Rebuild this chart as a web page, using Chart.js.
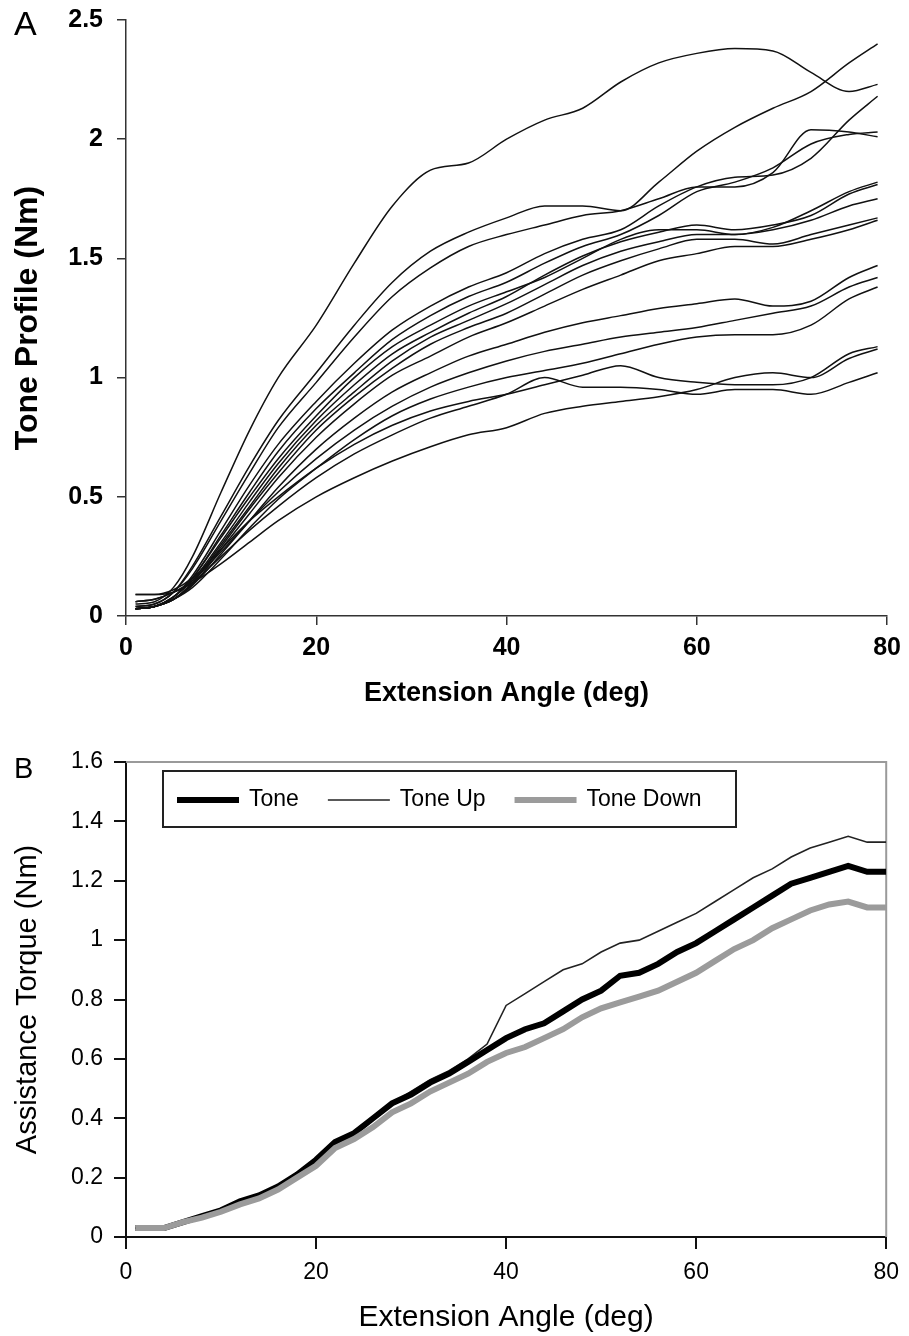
<!DOCTYPE html>
<html>
<head>
<meta charset="utf-8">
<script src="https://cdn.jsdelivr.net/npm/chart.js@4.4.1/dist/chart.umd.min.js"></script>
<style>
html, body { margin: 0; padding: 0; background: #fff; }
#wrapA { position: absolute; left: 0; top: 0; width: 909px; height: 710px; }
#wrapB { position: absolute; left: 0; top: 710px; width: 909px; height: 626px; }
</style>
</head>
<body>
<div id="wrapA"><canvas id="panelA" width="909" height="710"></canvas></div>
<div id="wrapB"><canvas id="panelB" width="909" height="626"></canvas></div>
<script>
// ---- panel A : tone profile of each subject ----
var anglesA = [1,3,5,7,10,13,16,20,24,28,32,36,40,44,48,52,56,60,64,68,72,76,79];

var subj01 = [0.05,0.06,0.12,0.25,0.52,0.78,1.00,1.22,1.48,1.72,1.87,1.90,2.00,2.08,2.13,2.24,2.32,2.36,2.38,2.37,2.28,2.20,2.23];
var subj02 = [0.04,0.05,0.10,0.21,0.42,0.63,0.82,1.02,1.22,1.40,1.53,1.61,1.67,1.72,1.72,1.70,1.82,1.95,2.05,2.13,2.20,2.32,2.40];
var subj03 = [0.04,0.05,0.10,0.20,0.40,0.60,0.79,0.98,1.17,1.34,1.46,1.55,1.60,1.64,1.68,1.70,1.75,1.80,1.80,1.86,2.04,2.03,2.01];
var subj04 = [0.03,0.04,0.08,0.17,0.36,0.55,0.72,0.90,1.06,1.20,1.30,1.38,1.44,1.52,1.58,1.62,1.72,1.80,1.84,1.85,1.92,2.08,2.18];
var subj05 = [0.03,0.04,0.08,0.16,0.34,0.52,0.69,0.87,1.02,1.16,1.26,1.34,1.40,1.48,1.55,1.60,1.68,1.78,1.82,1.88,1.98,2.02,2.03];
var subj06 = [0.03,0.04,0.08,0.16,0.33,0.50,0.66,0.84,1.00,1.13,1.22,1.30,1.36,1.42,1.50,1.58,1.62,1.62,1.60,1.63,1.70,1.78,1.82];
var subj07 = [0.03,0.04,0.08,0.15,0.31,0.48,0.64,0.82,0.97,1.10,1.19,1.27,1.34,1.43,1.51,1.57,1.61,1.64,1.62,1.64,1.68,1.77,1.81];
var subj08 = [0.03,0.04,0.07,0.14,0.30,0.46,0.62,0.80,0.94,1.07,1.17,1.24,1.31,1.39,1.47,1.53,1.57,1.60,1.60,1.62,1.66,1.72,1.75];
var subj09 = [0.03,0.04,0.07,0.14,0.29,0.45,0.60,0.78,0.92,1.04,1.14,1.21,1.27,1.35,1.43,1.49,1.54,1.58,1.58,1.56,1.60,1.64,1.67];
var subj10 = [0.03,0.04,0.07,0.13,0.28,0.43,0.58,0.75,0.89,1.01,1.09,1.17,1.23,1.30,1.37,1.43,1.49,1.52,1.55,1.55,1.58,1.62,1.66];
var subj11 = [0.03,0.04,0.07,0.13,0.26,0.40,0.54,0.70,0.83,0.94,1.02,1.09,1.14,1.19,1.23,1.26,1.29,1.31,1.33,1.30,1.32,1.42,1.47];
var subj12 = [0.06,0.07,0.10,0.15,0.27,0.40,0.52,0.66,0.78,0.88,0.96,1.02,1.07,1.11,1.14,1.17,1.19,1.21,1.24,1.27,1.30,1.38,1.42];
var subj13 = [0.03,0.04,0.07,0.12,0.24,0.37,0.49,0.62,0.74,0.84,0.91,0.96,1.00,1.03,1.06,1.10,1.14,1.17,1.18,1.18,1.22,1.33,1.38];
var subj14 = [0.09,0.09,0.11,0.16,0.28,0.40,0.50,0.62,0.72,0.80,0.86,0.90,0.93,0.97,1.01,1.05,1.00,0.98,0.97,0.97,1.00,1.10,1.13];
var subj15 = [0.06,0.07,0.10,0.14,0.25,0.36,0.46,0.58,0.68,0.76,0.83,0.88,0.93,1.00,0.96,0.96,0.95,0.93,0.95,0.95,0.93,0.98,1.02];
var subj16 = [0.09,0.09,0.10,0.14,0.22,0.31,0.40,0.50,0.58,0.65,0.71,0.76,0.79,0.85,0.88,0.90,0.92,0.95,1.00,1.02,1.00,1.08,1.12];

var subjects = [subj01,subj02,subj03,subj04,subj05,subj06,subj07,subj08,subj09,subj10,subj11,subj12,subj13,subj14,subj15,subj16];

// ---- panel B : assistance torque ----
var anglesB = [1,2,4,6,8,10,12,14,16,18,20,22,24,26,28,30,32,34,36,38,40,42,44,46,48,50,52,54,56,58,60,62,64,66,68,70,72,74,76,78,80];
var tone     = [0.03,0.03,0.03,0.05,0.07,0.09,0.12,0.14,0.17,0.21,0.26,0.32,0.35,0.40,0.45,0.48,0.52,0.55,0.59,0.63,0.67,0.70,0.72,0.76,0.80,0.83,0.88,0.89,0.92,0.96,0.99,1.03,1.07,1.11,1.15,1.19,1.21,1.23,1.25,1.23,1.23];
var toneUp   = [0.03,0.03,0.03,0.05,0.07,0.09,0.12,0.14,0.17,0.21,0.26,0.32,0.35,0.40,0.45,0.49,0.53,0.56,0.60,0.65,0.78,0.82,0.86,0.90,0.92,0.96,0.99,1.00,1.03,1.06,1.09,1.13,1.17,1.21,1.24,1.28,1.31,1.33,1.35,1.33,1.33];
var toneDown = [0.03,0.03,0.03,0.05,0.065,0.085,0.11,0.13,0.16,0.20,0.24,0.30,0.33,0.37,0.42,0.45,0.49,0.52,0.55,0.59,0.62,0.64,0.67,0.70,0.74,0.77,0.79,0.81,0.83,0.86,0.89,0.93,0.97,1.00,1.04,1.07,1.10,1.12,1.13,1.11,1.11];

var xTicks = [0,20,40,60,80];

function pts(xs, ys) {
  return xs.map(function (x, i) { return {x: x, y: ys[i]}; });
}
function fmt(v) { return String(+(+v).toFixed(1)); }
function noPadY(s) { s.width = 126; s.paddingTop = 0; s.paddingBottom = 0; }

var FAM = '"Liberation Sans", Arial, sans-serif';

var panelLetter = {
  id: 'panelLetter',
  afterDraw: function (chart, args, opts) {
    var ctx = chart.ctx;
    ctx.save();
    ctx.fillStyle = '#000';
    ctx.font = opts.size + 'px ' + FAM;
    ctx.textBaseline = 'alphabetic';
    ctx.fillText(opts.text, opts.x, opts.y);
    ctx.restore();
  }
};

// gray frame on top/right and the boxed legend of panel B
var frameLegend = {
  id: 'frameLegend',
  beforeDatasetsDraw: function (chart) {
    var ctx = chart.ctx, a = chart.chartArea;
    ctx.save();
    ctx.strokeStyle = '#9a9a9a';
    ctx.lineWidth = 2;
    ctx.beginPath();
    ctx.moveTo(a.left, a.top);
    ctx.lineTo(a.right, a.top);
    ctx.lineTo(a.right, a.bottom);
    ctx.stroke();
    ctx.restore();
  },
  afterDatasetsDraw: function (chart) {
    var ctx = chart.ctx, a = chart.chartArea;
    var bx = a.left + 37, by = a.top + 9, bw = 573, bh = 56;
    ctx.save();
    ctx.fillStyle = '#fff';
    ctx.fillRect(bx, by, bw, bh);
    ctx.strokeStyle = '#222';
    ctx.lineWidth = 2;
    ctx.strokeRect(bx, by, bw, bh);
    ctx.font = '23px ' + FAM;
    ctx.fillStyle = '#000';
    ctx.textBaseline = 'middle';
    var cy = by + bh / 2 + 1;
    var x = bx + 14;
    chart.data.datasets.forEach(function (ds) {
      ctx.strokeStyle = ds.borderColor;
      ctx.lineWidth = ds.borderWidth;
      ctx.beginPath();
      ctx.moveTo(x, cy);
      ctx.lineTo(x + 62, cy);
      ctx.stroke();
      x += 72;
      ctx.fillText(ds.label, x, cy);
      x += ctx.measureText(ds.label).width + 29;
    });
    ctx.restore();
  }
};

// ---------- chart A ----------
new Chart(document.getElementById('panelA'), {
  type: 'line',
  data: {
    datasets: subjects.map(function (s, i) {
      return {
        label: 'S' + (i + 1),
        data: pts(anglesA, s),
        borderColor: '#111',
        borderWidth: 1.5,
        pointRadius: 0,
        cubicInterpolationMode: 'monotone',
        fill: false
      };
    })
  },
  options: {
    responsive: false,
    animation: false,
    devicePixelRatio: 1,
    layout: { padding: { top: 20, right: 18, left: 0, bottom: 0 } },
    plugins: {
      legend: { display: false },
      tooltip: { enabled: false },
      panelLetter: { text: 'A', size: 34, x: 14, y: 35 }
    },
    scales: {
      x: {
        type: 'linear', min: 0, max: 80,
        afterBuildTicks: function (s) { s.ticks = xTicks.map(function (v) { return {value: v}; }); },
        afterFit: function (s) { s.height = 94; },
        ticks: { color: '#000', font: { family: FAM, size: 25, weight: 'bold' }, padding: 8, maxRotation: 0 },
        grid: { drawOnChartArea: false, drawTicks: true, tickLength: 9, color: '#333', lineWidth: 1.5 },
        border: { color: '#333', width: 1.5 },
        title: { display: true, text: 'Extension Angle (deg)', color: '#000',
                 font: { family: FAM, size: 27, weight: 'bold' }, padding: { top: 2, bottom: 0 } }
      },
      y: {
        min: 0, max: 2.5,
        afterFit: noPadY,
        ticks: { stepSize: 0.5, color: '#000', font: { family: FAM, size: 25, weight: 'bold' }, padding: 14, callback: fmt },
        grid: { drawOnChartArea: false, drawTicks: true, tickLength: 9, color: '#333', lineWidth: 1.5 },
        border: { color: '#333', width: 1.5 },
        title: { display: true, text: 'Tone Profile (Nm)', color: '#000',
                 font: { family: FAM, size: 32, weight: 'bold' }, padding: { top: 9, bottom: 0 } }
      }
    }
  },
  plugins: [panelLetter]
});

// ---------- chart B ----------
new Chart(document.getElementById('panelB'), {
  type: 'line',
  data: {
    datasets: [
      { label: 'Tone', data: pts(anglesB, tone), borderColor: '#000', borderWidth: 6, order: 2 },
      { label: 'Tone Up', data: pts(anglesB, toneUp), borderColor: '#222', borderWidth: 1.6, order: 3 },
      { label: 'Tone Down', data: pts(anglesB, toneDown), borderColor: '#9b9b9b', borderWidth: 6, order: 1 }
    ].map(function (d) { d.pointRadius = 0; d.tension = 0; d.fill = false; return d; })
  },
  options: {
    responsive: false,
    animation: false,
    devicePixelRatio: 1,
    layout: { padding: { top: 52, right: 16, left: 0, bottom: 0 } },
    plugins: {
      legend: { display: false },
      tooltip: { enabled: false },
      panelLetter: { text: 'B', size: 29, x: 14, y: 68 }
    },
    scales: {
      x: {
        type: 'linear', min: 0, max: 80,
        afterBuildTicks: function (s) { s.ticks = xTicks.map(function (v) { return {value: v}; }); },
        afterFit: function (s) { s.height = 99; },
        ticks: { color: '#000', font: { family: FAM, size: 23 }, padding: 10, maxRotation: 0 },
        grid: { drawOnChartArea: false, drawTicks: true, tickLength: 12, color: '#111', lineWidth: 2 },
        border: { color: '#111', width: 2 },
        title: { display: true, text: 'Extension Angle (deg)', color: '#000',
                 font: { family: FAM, size: 30 }, padding: { top: 0, bottom: 0 } }
      },
      y: {
        min: 0, max: 1.6,
        afterFit: noPadY,
        ticks: { stepSize: 0.2, color: '#000', font: { family: FAM, size: 23 }, padding: 11, callback: fmt },
        grid: { drawOnChartArea: false, drawTicks: true, tickLength: 12, color: '#111', lineWidth: 2 },
        border: { color: '#111', width: 2 },
        title: { display: true, text: 'Assistance Torque (Nm)', color: '#000',
                 font: { family: FAM, size: 29 }, padding: { top: 11, bottom: 0 } }
      }
    }
  },
  plugins: [panelLetter, frameLegend]
});
</script>
</body>
</html>
